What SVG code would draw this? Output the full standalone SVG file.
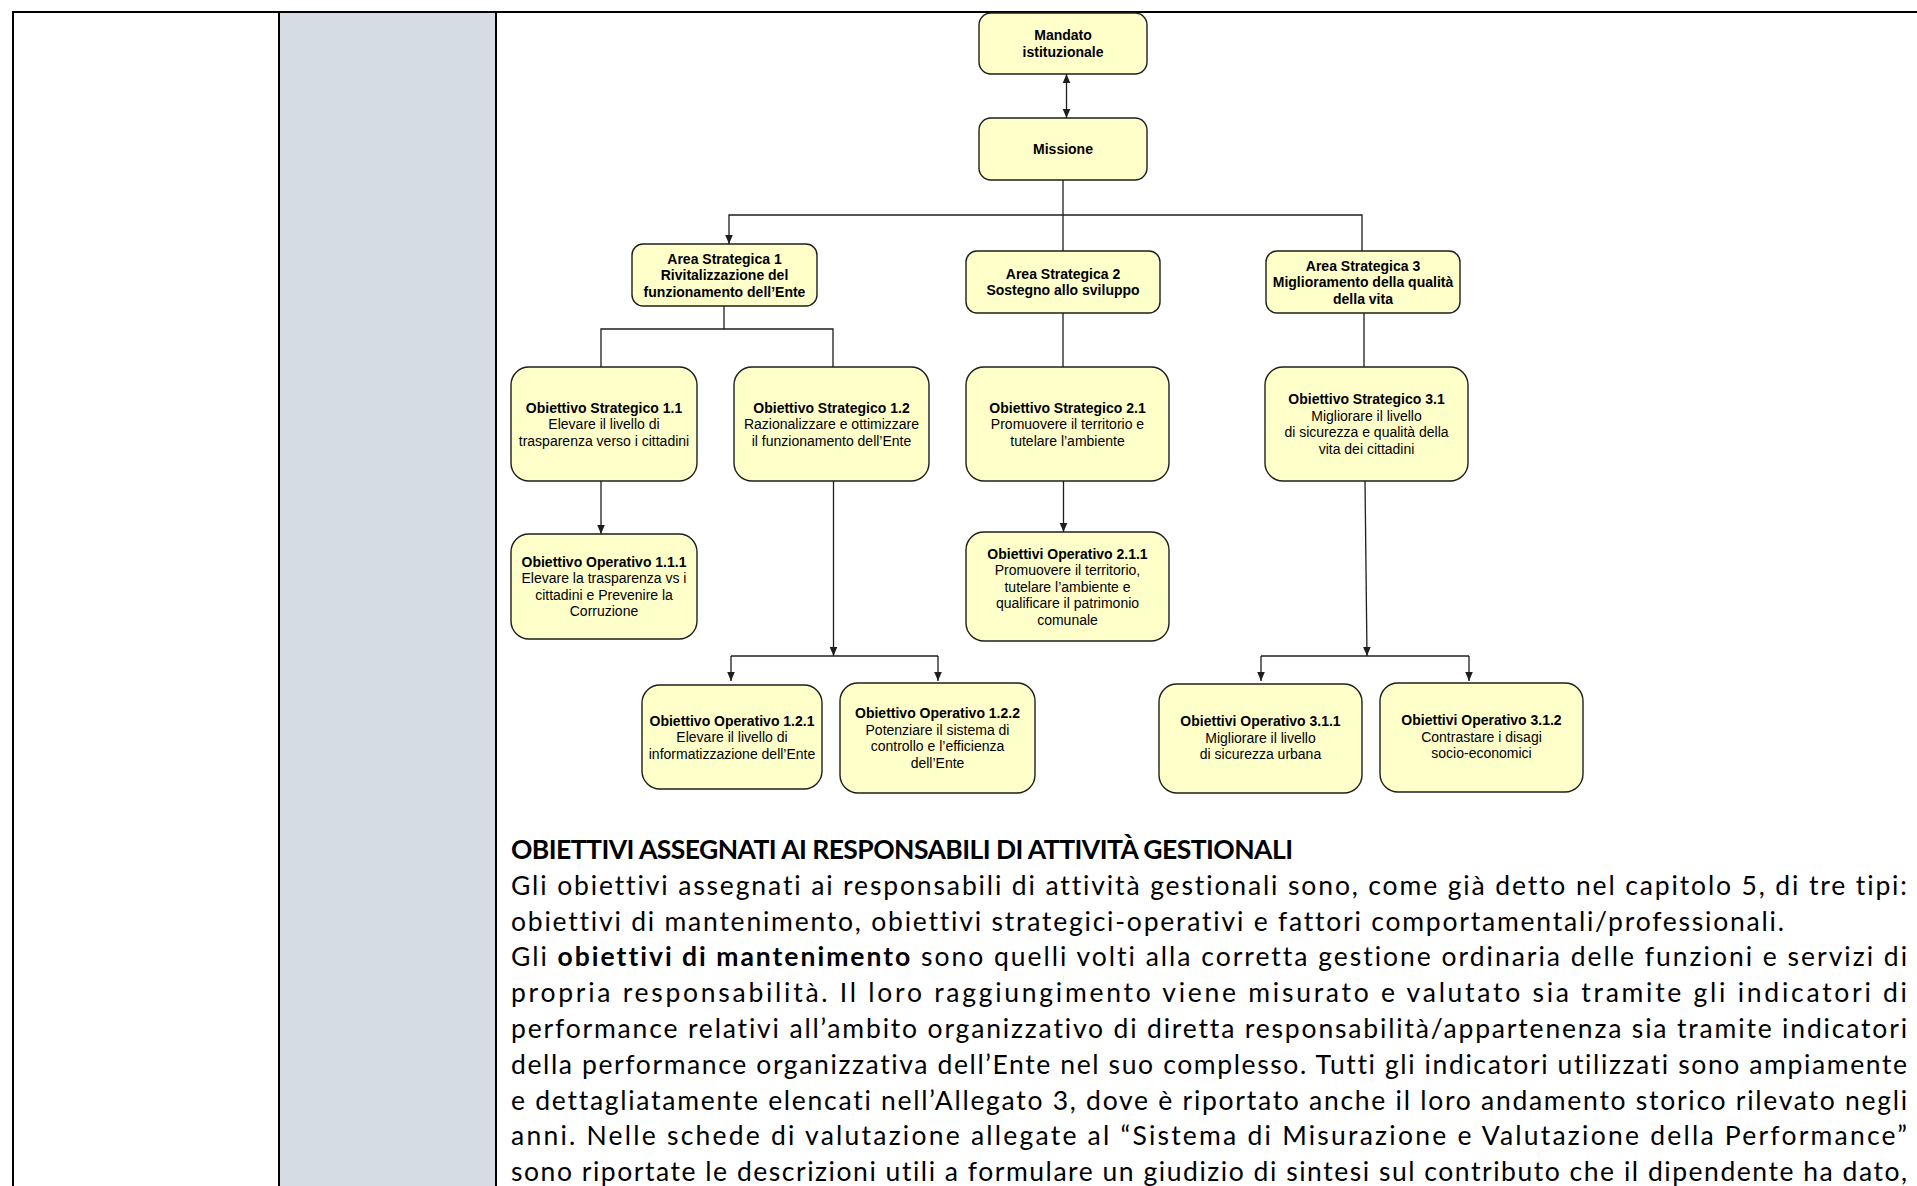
<svg xmlns="http://www.w3.org/2000/svg" width="1917" height="1186" viewBox="0 0 1917 1186">
<defs>
<style>
.box{fill:#FFFFCA;stroke:#1E1E1E;stroke-width:1.4}
.t{font-family:"Liberation Sans",Arial,sans-serif;font-size:14px;text-anchor:middle;fill:#000}
.b{font-weight:bold}
.c{fill:none;stroke:#1E1E1E;stroke-width:1.3}
.p{font-family:Lato,"Open Sans",sans-serif;font-size:26.5px;fill:#000;font-variant-ligatures:none;font-feature-settings:"liga" 0}
.grid{stroke:#000;stroke-width:2;fill:none}
</style>
<marker id="ah" viewBox="0 0 9 9" refX="9" refY="4.5" markerWidth="9" markerHeight="9" markerUnits="userSpaceOnUse" orient="auto-start-reverse">
<path d="M0,0.7 L9,4.5 L0,8.3 Z" fill="#1E1E1E"/>
</marker>
</defs>
<rect width="1917" height="1186" fill="#FFFFFF"/>
<g id="table">
<rect x="279" y="12" width="217" height="1174" fill="#D5DCE4"/>
<path class="grid" d="M13,12 H1917 M13,11 V1186 M279,12 V1186 M496,12 V1186"/>
</g>
<g id="connectors">
<path class="c" d="M1066.5,74 V118" marker-start="url(#ah)" marker-end="url(#ah)"/>
<path class="c" d="M1063,180 V251"/>
<path class="c" d="M1362,251 V215 H729 V244" marker-end="url(#ah)"/>
<path class="c" d="M724,306 V329 M601,367 V329 H833 V367"/>
<path class="c" d="M1063,313 V367"/>
<path class="c" d="M1364,313 V367"/>
<path class="c" d="M601,481 V534" marker-end="url(#ah)"/>
<path class="c" d="M833.5,481 V656" marker-end="url(#ah)"/>
<path class="c" d="M731,656 H938"/>
<path class="c" d="M731,656 V681" marker-end="url(#ah)"/>
<path class="c" d="M938,656 V681" marker-end="url(#ah)"/>
<path class="c" d="M1063.5,481 V532" marker-end="url(#ah)"/>
<path class="c" d="M1365,481 L1367,656" marker-end="url(#ah)"/>
<path class="c" d="M1261,656 H1469"/>
<path class="c" d="M1261,656 V681" marker-end="url(#ah)"/>
<path class="c" d="M1469,656 V681" marker-end="url(#ah)"/>
</g>
<g id="mandato">
<rect class="box" x="979" y="13" width="168" height="61" rx="12"/>
<text class="t b"><tspan x="1063" y="40.25">Mandato</tspan><tspan x="1063" y="56.75">istituzionale</tspan></text>
</g>
<g id="missione">
<rect class="box" x="979" y="118" width="168" height="62" rx="12"/>
<text class="t b" x="1063" y="154">Missione</text>
</g>
<g id="area1">
<rect class="box" x="632" y="244" width="185" height="62" rx="11"/>
<text class="t b"><tspan x="724.5" y="263.5">Area Strategica 1</tspan><tspan x="724.5" y="280">Rivitalizzazione del</tspan><tspan x="724.5" y="296.5">funzionamento dell’Ente</tspan></text>
</g>
<g id="area2">
<rect class="box" x="966" y="251" width="194" height="62" rx="11"/>
<text class="t b"><tspan x="1063" y="278.75">Area Strategica 2</tspan><tspan x="1063" y="295.25">Sostegno allo sviluppo</tspan></text>
</g>
<g id="area3">
<rect class="box" x="1266" y="251" width="194" height="62" rx="11"/>
<text class="t b"><tspan x="1363" y="270.5">Area Strategica 3</tspan><tspan x="1363" y="287">Miglioramento della qualità</tspan><tspan x="1363" y="303.5">della vita</tspan></text>
</g>
<g id="obj11">
<rect class="box" x="511" y="367" width="186" height="114" rx="18"/>
<text class="t"><tspan class="b" x="604" y="412.5">Obiettivo Strategico 1.1</tspan><tspan x="604" y="429">Elevare il livello di</tspan><tspan x="604" y="445.5">trasparenza verso i cittadini</tspan></text>
</g>
<g id="obj12">
<rect class="box" x="734" y="367" width="195" height="114" rx="18"/>
<text class="t"><tspan class="b" x="831.5" y="412.5">Obiettivo Strategico 1.2</tspan><tspan x="831.5" y="429">Razionalizzare e ottimizzare</tspan><tspan x="831.5" y="445.5">il funzionamento dell’Ente</tspan></text>
</g>
<g id="obj21">
<rect class="box" x="966" y="367" width="203" height="114" rx="18"/>
<text class="t"><tspan class="b" x="1067.5" y="412.5">Obiettivo Strategico 2.1</tspan><tspan x="1067.5" y="429">Promuovere il territorio e</tspan><tspan x="1067.5" y="445.5">tutelare l’ambiente</tspan></text>
</g>
<g id="obj31">
<rect class="box" x="1265" y="367" width="203" height="114" rx="18"/>
<text class="t"><tspan class="b" x="1366.5" y="404.25">Obiettivo Strategico 3.1</tspan><tspan x="1366.5" y="420.75">Migliorare il livello</tspan><tspan x="1366.5" y="437.25">di sicurezza  e qualità della</tspan><tspan x="1366.5" y="453.75">vita dei cittadini</tspan></text>
</g>
<g id="op111">
<rect class="box" x="511" y="534" width="186" height="105" rx="18"/>
<text class="t"><tspan class="b" x="604" y="566.75">Obiettivo Operativo 1.1.1</tspan><tspan x="604" y="583.25">Elevare la trasparenza vs i</tspan><tspan x="604" y="599.75">cittadini e Prevenire la</tspan><tspan x="604" y="616.25">Corruzione</tspan></text>
</g>
<g id="op211">
<rect class="box" x="966" y="532" width="203" height="109" rx="18"/>
<text class="t"><tspan class="b" x="1067.5" y="558.5">Obiettivi Operativo 2.1.1</tspan><tspan x="1067.5" y="575">Promuovere il territorio,</tspan><tspan x="1067.5" y="591.5">tutelare l’ambiente e</tspan><tspan x="1067.5" y="608">qualificare il patrimonio</tspan><tspan x="1067.5" y="624.5">comunale</tspan></text>
</g>
<g id="op121">
<rect class="box" x="642" y="685" width="180" height="104" rx="18"/>
<text class="t"><tspan class="b" x="732" y="725.5">Obiettivo Operativo 1.2.1</tspan><tspan x="732" y="742">Elevare il livello di</tspan><tspan x="732" y="758.5">informatizzazione dell’Ente</tspan></text>
</g>
<g id="op122">
<rect class="box" x="840" y="683" width="195" height="110" rx="18"/>
<text class="t"><tspan class="b" x="937.5" y="718.25">Obiettivo Operativo 1.2.2</tspan><tspan x="937.5" y="734.75">Potenziare il sistema di</tspan><tspan x="937.5" y="751.25">controllo e l’efficienza</tspan><tspan x="937.5" y="767.75">dell’Ente</tspan></text>
</g>
<g id="op311">
<rect class="box" x="1159" y="684" width="203" height="109" rx="18"/>
<text class="t"><tspan class="b" x="1260.5" y="726">Obiettivi Operativo 3.1.1</tspan><tspan x="1260.5" y="742.5">Migliorare il livello</tspan><tspan x="1260.5" y="759">di sicurezza urbana</tspan></text>
</g>
<g id="op312">
<rect class="box" x="1380" y="683" width="203" height="109" rx="18"/>
<text class="t"><tspan class="b" x="1481.5" y="725">Obiettivi Operativo 3.1.2</tspan><tspan x="1481.5" y="741.5">Contrastare i disagi</tspan><tspan x="1481.5" y="758">socio-economici</tspan></text>
</g>
<g id="body-text">
<text class="p" x="511" y="859" font-weight="bold" textLength="782">OBIETTIVI ASSEGNATI AI RESPONSABILI DI ATTIVITÀ GESTIONALI</text>
<text class="p" x="511" y="894.8" textLength="1396">Gli obiettivi assegnati ai responsabili di attività gestionali sono, come già detto nel capitolo 5, di tre tipi:</text>
<text class="p" x="511" y="930.6" textLength="1273">obiettivi di mantenimento, obiettivi strategici-operativi e fattori comportamentali/professionali.</text>
<text class="p" x="511" y="966.4" textLength="1396">Gli <tspan font-weight="bold">obiettivi di mantenimento</tspan> sono quelli volti alla corretta gestione ordinaria delle funzioni e servizi di</text>
<text class="p" x="511" y="1002.2" textLength="1396">propria responsabilità. Il loro raggiungimento viene misurato e valutato sia tramite gli indicatori di</text>
<text class="p" x="511" y="1038" textLength="1396">performance relativi all’ambito organizzativo di diretta responsabilità/appartenenza sia tramite indicatori</text>
<text class="p" x="511" y="1073.8" textLength="1396">della performance organizzativa dell’Ente nel suo complesso. Tutti gli indicatori utilizzati sono ampiamente</text>
<text class="p" x="511" y="1109.6" textLength="1396">e dettagliatamente elencati nell’Allegato 3, dove è riportato anche il loro andamento storico rilevato negli</text>
<text class="p" x="511" y="1145.4" textLength="1396">anni. Nelle schede di valutazione allegate al “Sistema di Misurazione e Valutazione della Performance”</text>
<text class="p" x="511" y="1181.2" textLength="1396">sono riportate le descrizioni utili a formulare un giudizio di sintesi sul contributo che il dipendente ha dato,</text>
</g>
</svg>
